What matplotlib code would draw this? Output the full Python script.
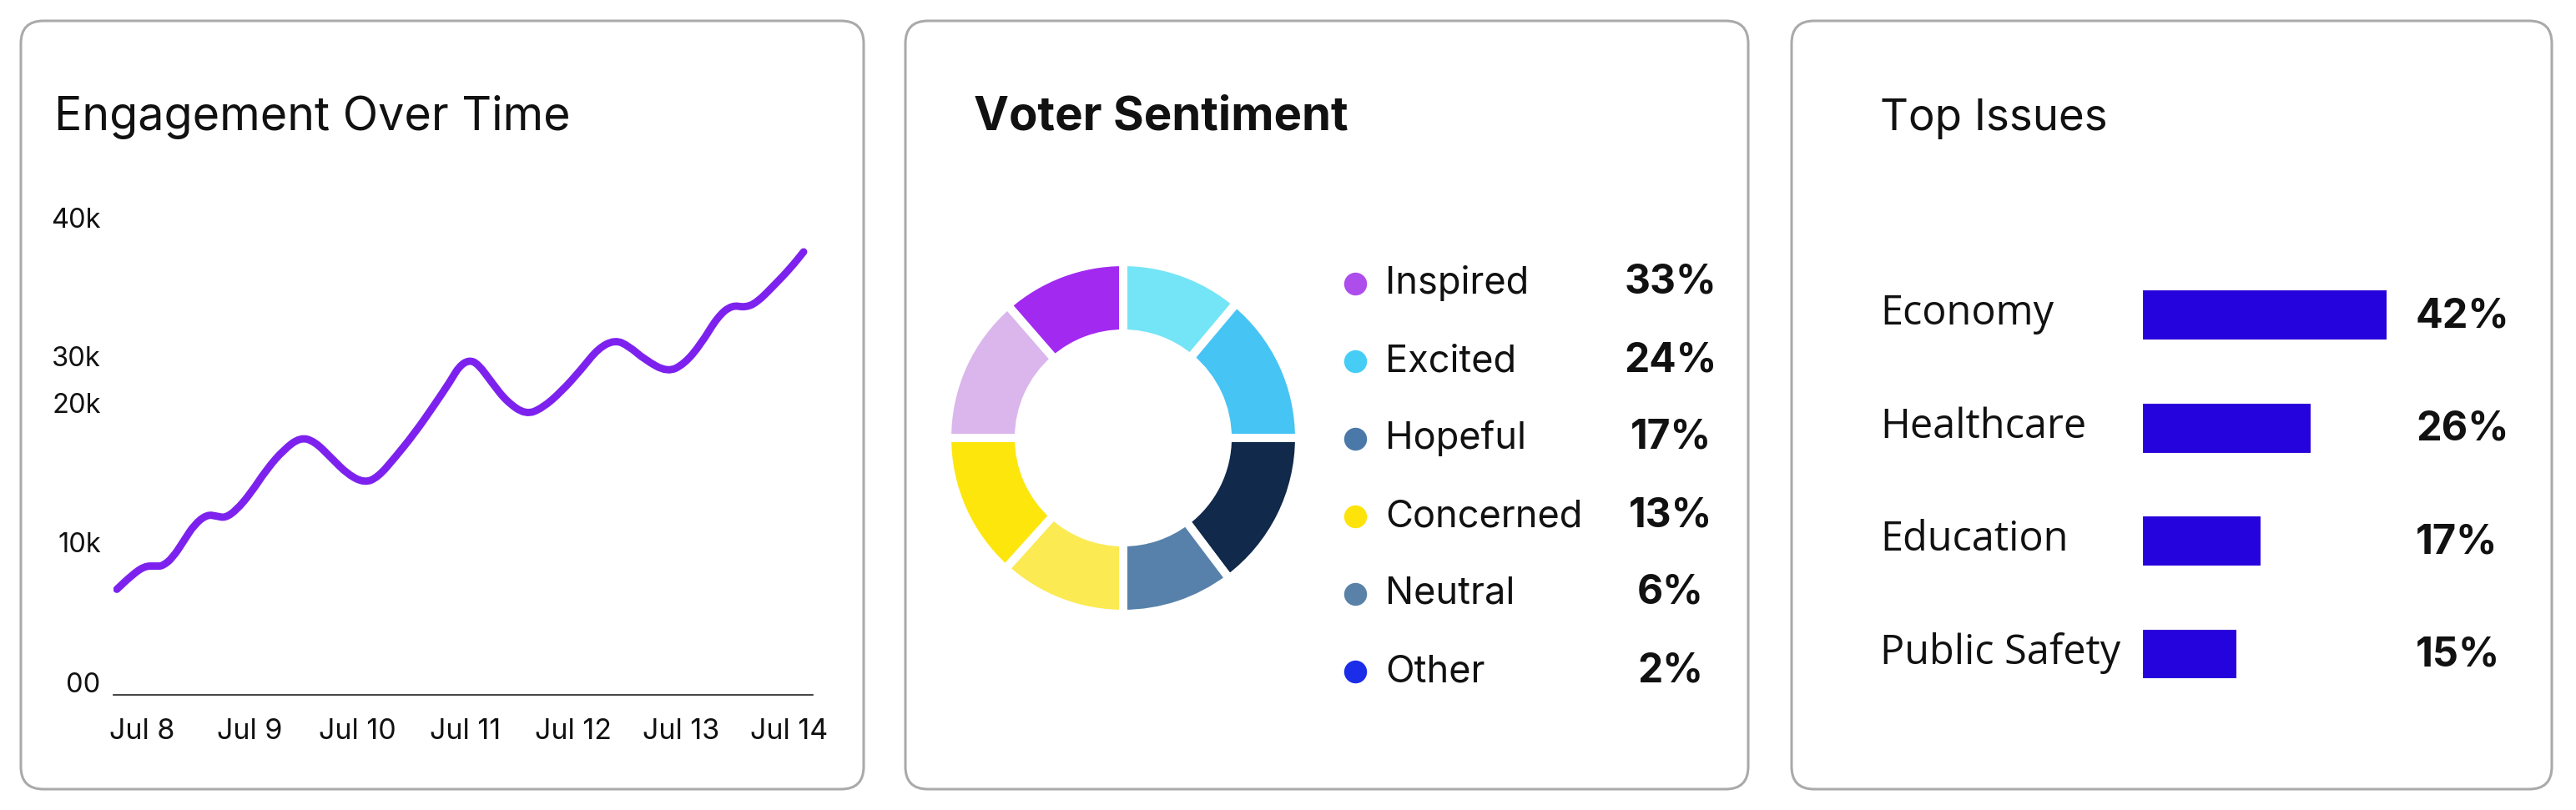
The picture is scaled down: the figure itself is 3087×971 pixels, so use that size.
import matplotlib.pyplot as plt
import numpy as np
from matplotlib.patches import FancyBboxPatch, PathPatch
from matplotlib.path import Path

plt.rcParams['font.family'] = ['Inter', 'DejaVu Sans']

# ---- data ----
days = ['Jul 8', 'Jul 9', 'Jul 10', 'Jul 11', 'Jul 12', 'Jul 13', 'Jul 14']
# engagement (thousands), x in days after Jul 8
eng_x = [-0.232, -0.101, 0.023, 0.131, 0.193, 0.286, 0.387, 0.487, 0.603, 0.696,
         0.773, 0.874, 1.005, 1.160, 1.315, 1.469, 1.601, 1.756, 1.910, 2.065,
         2.189, 2.343, 2.529, 2.707, 2.862, 2.939, 3.032, 3.117, 3.248, 3.380,
         3.558, 3.712, 3.890, 4.076, 4.230, 4.385, 4.509, 4.664, 4.872, 5.027,
         5.182, 5.337, 5.468, 5.592, 5.700, 5.855, 6.009, 6.133]
eng_y = [8.85, 9.97, 10.80, 10.80, 10.80, 11.50, 12.89, 14.29, 15.12, 14.98,
         14.84, 15.47, 16.86, 18.95, 20.56, 21.60, 21.25, 19.86, 18.47, 17.77,
         18.26, 19.86, 21.95, 24.25, 26.34, 27.53, 28.08, 27.74, 26.13, 24.60,
         23.48, 24.04, 25.44, 27.32, 29.06, 29.76, 29.27, 28.08, 27.04, 27.74,
         29.41, 31.71, 32.68, 32.47, 32.89, 34.29, 35.75, 37.14]
ytick_pos = [1.05, 12.8, 24.5, 28.4, 40]
ytick_lab = ['00', '10k', '20k', '30k', '40k']

# donut segments (clockwise from top)
ring_vals = [40, 50, 53, 37, 42, 48, 49, 41]
ring_cols = ['#74e5f6', '#46c4f4', '#11294a', '#5781aa', '#fbea52', '#fde60c', '#dab6ec', '#a22af0']

sent_labels = ['Inspired', 'Excited', 'Hopeful', 'Concerned', 'Neutral', 'Other']
sent_pct = [33, 24, 17, 13, 6, 2]
sent_cols = ['#ad4deb', '#46cdf5', '#4a78a8', '#fde30a', '#5a82a8', '#1b2de8']

issues = ['Economy', 'Healthcare', 'Education', 'Public Safety']
issue_pct = [42, 26, 17, 15]
issue_bar = [42, 28.8, 20.1, 16.0]

W, H = 3087, 971
fig = plt.figure(figsize=(W / 100, H / 100), dpi=100)
fig.patch.set_facecolor('white')


def px_axes(x0, y0, x1, y1):
    return fig.add_axes([x0 / W, 1 - y1 / H, (x1 - x0) / W, (y1 - y0) / H])


# background layer in pixel units
bg = fig.add_axes([0, 0, 1, 1])
bg.set_xlim(0, W)
bg.set_ylim(H, 0)
bg.axis('off')
for (x0, y0, x1, y1) in [(25, 25, 1035, 946), (1085, 25, 2095, 946), (2147, 25, 3058, 946)]:
    bg.add_patch(FancyBboxPatch((x0, y0), x1 - x0, y1 - y0,
                                boxstyle='round,pad=0,rounding_size=27',
                                fc='white', ec='#aaaaaa', lw=2.2))

bg.text(65, 156, 'Engagement Over Time', fontsize=40, color='#111111', va='baseline')
bg.text(1167, 156, 'Voter Sentiment', fontsize=40.5, fontweight='bold', color='#111111', va='baseline')
bg.text(2253, 156, 'Top Issues', fontsize=38, color='#111111', va='baseline')

# ---- line chart ----
ax1 = px_axes(136, 250, 974, 833)
# smooth path: read points act as control points, midpoints as knots
pts = np.column_stack([eng_x, eng_y])
mids = (pts[:-1] + pts[1:]) / 2
verts = [pts[0], mids[0]]
codes = [Path.MOVETO, Path.LINETO]
for i in range(1, len(pts) - 1):
    verts += [pts[i], mids[i]]
    codes += [Path.CURVE3, Path.CURVE3]
verts.append(pts[-1])
codes.append(Path.LINETO)
ax1.add_patch(PathPatch(Path(verts, codes), fill=False, ec='#7d22ee', lw=6.4,
                        capstyle='round', joinstyle='round'))
ax1.set_xlim(-0.263, 6.218)
ax1.set_ylim(0, 40.77)
ax1.set_xticks(range(len(days)))
ax1.set_xticklabels(days, fontsize=24.5)
ax1.set_yticks(ytick_pos)
ax1.set_yticklabels(ytick_lab, fontsize=23.5)
ax1.tick_params(axis='both', length=0, colors='#111111')
ax1.tick_params(axis='x', pad=20)
ax1.tick_params(axis='y', pad=11)
for s in ['top', 'right', 'left']:
    ax1.spines[s].set_visible(False)
ax1.spines['bottom'].set_color('#222222')
ax1.spines['bottom'].set_linewidth(1.2)
ax1.set_facecolor('none')

# ---- donut ----
ax2 = px_axes(1346 - 206, 525 - 206, 1346 + 206, 525 + 206)
ax2.pie(ring_vals, colors=ring_cols, startangle=90, counterclock=False, radius=1.024,
        wedgeprops=dict(width=0.417, edgecolor='white', linewidth=7.2))
ax2.set_xlim(-1, 1)
ax2.set_ylim(-1, 1)
ax2.set_aspect('auto')

row0, drow = 340, 93
for i, (lab, p, c) in enumerate(zip(sent_labels, sent_pct, sent_cols)):
    yy = row0 + i * drow
    bg.scatter([1624], [yy], s=390, color=c, zorder=3, linewidths=0)
    bg.text(1660, yy + 12, lab, fontsize=32.5, color='#111111', va='baseline')
    bg.text(2002, yy + 12, f'{p}%', fontsize=34.5, fontweight='bold', color='#111111',
            va='baseline', ha='center')

# ---- bars ----
ax3 = px_axes(2568, 348, 2860, 813)
ypos = np.arange(len(issues))
ax3.barh(ypos, issue_bar, height=0.428, color='#2403dc', edgecolor='#3a10d8', lw=0.8)
ax3.set_xlim(0, 42)
ax3.set_ylim(3.214, -0.214)
ax3.axis('off')
for i, (lab, p) in enumerate(zip(issues, issue_pct)):
    yc = 348 + (0.214 + i) * 135.6
    bg.text(2253, yc + 12, lab, fontsize=35, family=['Open Sans', 'DejaVu Sans'],
            color='#111111', va='baseline')
    bg.text(2895, yc + 15, f'{p}%', fontsize=35, fontweight='bold', color='#111111', va='baseline')

fig.savefig('out.png', dpi=100, facecolor='white')
